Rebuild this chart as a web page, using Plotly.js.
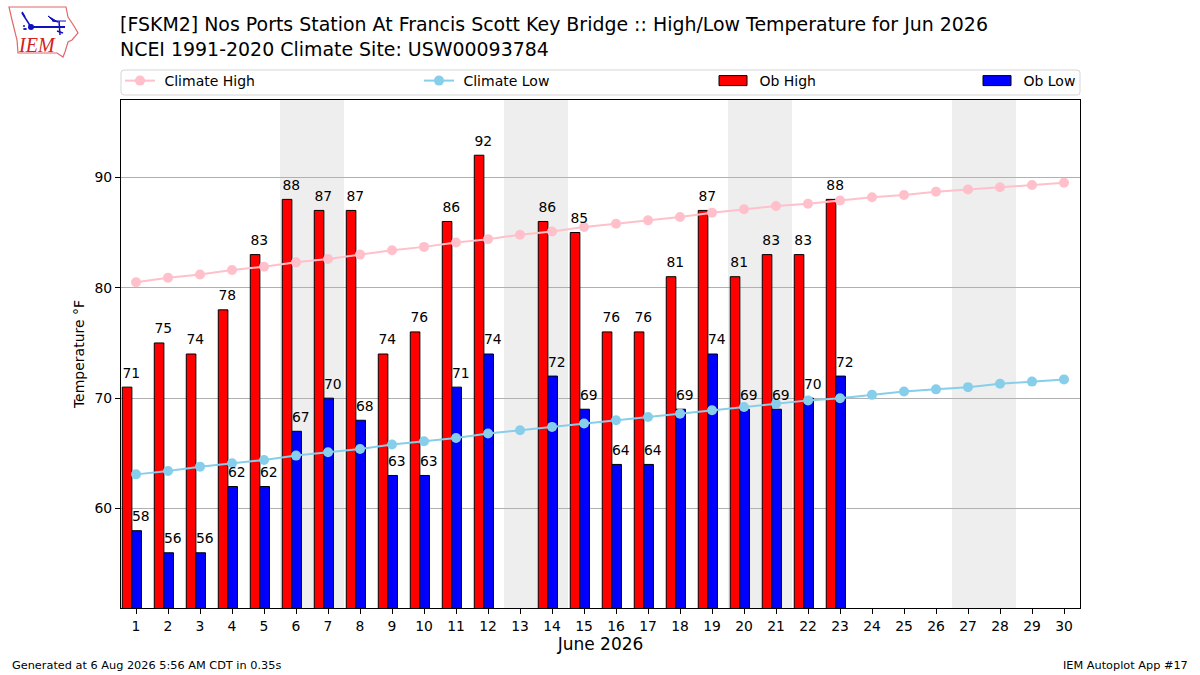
<!DOCTYPE html>
<html>
<head>
<meta charset="utf-8">
<script src="https://cdn.plot.ly/plotly-3.0.1.min.js"></script>
<style>
  html, body { margin: 0; padding: 0; background: #fff; }
  #chart { width: 1200px; height: 675px; }
</style>
</head>
<body>
<div id="chart"></div>
<script>
const DAYS = [1,2,3,4,5,6,7,8,9,10,11,12,13,14,15,16,17,18,19,20,21,22,23,24,25,26,27,28,29,30];
const OB_DAYS = [1,2,3,4,5,6,7,8,9,10,11,12,14,15,16,17,18,19,20,21,22,23];
const OB_HIGH = [71,75,74,78,83,88,87,87,74,76,86,92,86,85,76,76,81,87,81,83,83,88];
const OB_LOW = [58,56,56,62,62,67,70,68,63,63,71,74,72,69,64,64,69,74,69,69,70,72];
const CLIMATE_HIGH = [80.5,80.9,81.2,81.6,81.9,82.3,82.6,83.0,83.4,83.7,84.1,84.4,84.8,85.1,85.5,85.8,86.1,86.4,86.8,87.1,87.4,87.6,87.9,88.2,88.4,88.7,88.9,89.1,89.3,89.5];
const CLIMATE_LOW = [63.1,63.4,63.8,64.1,64.4,64.8,65.1,65.4,65.8,66.1,66.4,66.8,67.1,67.4,67.7,68.0,68.3,68.6,68.9,69.2,69.5,69.8,70.0,70.3,70.6,70.8,71.0,71.3,71.5,71.7];
const WEEKENDS = [[5.5,7.5],[12.5,14.5],[19.5,21.5],[26.5,28.5]];

const FONT = 'DejaVu Sans, sans-serif';
const LABEL_LIFT = 0.55;

// plot area in pixels, everything outside the axes is placed from these
const L = 121, R = 1080, T = 100, B = 608;
const px = x => (x - L) / (R - L);
const py = y => (B - y) / (B - T);
const pathOf = pts => pts.map((p, i) => (i ? 'L' : 'M') + px(p[0]) + ',' + py(p[1])).join(' ');

function paperShape(pts, closed, opts) {
  return { type: 'path', xref: 'paper', yref: 'paper', path: pathOf(pts) + (closed ? ' Z' : ''), ...opts };
}

// rounded legend frame
const r = 3;
const box = { x0: 121, x1: 1080, y0: 70, y1: 95 };
const legendFrame = {
  type: 'path', xref: 'paper', yref: 'paper', fillcolor: '#fff', line: { color: '#d5d5d5', width: 1 },
  path: `M${px(box.x0 + r)},${py(box.y0)} L${px(box.x1 - r)},${py(box.y0)} Q${px(box.x1)},${py(box.y0)} ${px(box.x1)},${py(box.y0 + r)} ` +
        `L${px(box.x1)},${py(box.y1 - r)} Q${px(box.x1)},${py(box.y1)} ${px(box.x1 - r)},${py(box.y1)} ` +
        `L${px(box.x0 + r)},${py(box.y1)} Q${px(box.x0)},${py(box.y1)} ${px(box.x0)},${py(box.y1 - r)} ` +
        `L${px(box.x0)},${py(box.y0 + r)} Q${px(box.x0)},${py(box.y0)} ${px(box.x0 + r)},${py(box.y0)} Z`,
};

// IEM logo
const IOWA = [[9,7],[66,7],[68,17],[74,26],[78,33],[72,40],[68,42],[65,52],[63,57],[57,53],[18,53],[17,40],[12,20]];
const BLUE = '#1010c0';
const logo = [
  paperShape(IOWA, true, { fillcolor: '#fff', line: { color: '#e06868', width: 1.2 } }),
  paperShape([[31,27],[65,27]], false, { line: { color: BLUE, width: 2 } }),
  paperShape([[22,13],[31,27]], false, { line: { color: BLUE, width: 1.5 } }),
  paperShape([[22,12],[25,17]], false, { line: { color: BLUE, width: 1.5 } }),
  paperShape([[48,16],[58,22],[53,21]], true, { fillcolor: BLUE, line: { color: BLUE, width: 1 } }),
  paperShape([[52,21],[66,21]], false, { line: { color: BLUE, width: 1 } }),
  paperShape([[59,21],[60,35]], false, { line: { color: BLUE, width: 1.5 } }),
  paperShape([[57,31],[63,33]], false, { line: { color: BLUE, width: 1.5 } }),
  { type: 'circle', xref: 'paper', yref: 'paper', x0: px(28), x1: px(34), y0: py(24), y1: py(30), fillcolor: BLUE, line: { width: 0 } },
  { type: 'circle', xref: 'paper', yref: 'paper', x0: px(23), x1: px(25), y0: py(25), y1: py(27), fillcolor: BLUE, line: { width: 0 } },
  { type: 'circle', xref: 'paper', yref: 'paper', x0: px(23), x1: px(27), y0: py(28), y1: py(30), fillcolor: BLUE, line: { width: 0 } },
];

const weekendShapes = WEEKENDS.map(w => ({
  type: 'rect', xref: 'x', yref: 'paper', x0: w[0], x1: w[1], y0: 0, y1: 1,
  fillcolor: '#eeeeee', line: { width: 0 }, layer: 'below',
}));

const barLine = { color: '#000', width: 1 };
const labelFont = { family: FONT, size: 13.9, color: '#000' };
const traces = [
  { type: 'bar', name: '\u00a0Ob High', x: OB_DAYS, y: OB_HIGH, width: 0.3, offset: -0.43,
    marker: { color: '#ff0000', line: barLine }, legend: 'legend3' },
  { type: 'bar', name: '\u00a0Ob Low', x: OB_DAYS, y: OB_LOW, width: 0.3, offset: -0.13,
    marker: { color: '#0000ff', line: barLine }, legend: 'legend4' },
  { type: 'scatter', mode: 'lines+markers', name: '\u00a0Climate High', x: DAYS, y: CLIMATE_HIGH,
    line: { color: '#ffc0cb', width: 2 }, marker: { color: '#ffc0cb', size: 10 }, legend: 'legend' },
  { type: 'scatter', mode: 'lines+markers', name: '\u00a0Climate Low', x: DAYS, y: CLIMATE_LOW,
    line: { color: '#87ceeb', width: 2 }, marker: { color: '#87ceeb', size: 10 }, legend: 'legend2' },
  // value labels sit over the inner edge of each bar
  { type: 'scatter', mode: 'text', x: OB_DAYS.map(d => d - 0.15), y: OB_HIGH.map(v => v + LABEL_LIFT), text: OB_HIGH.map(String),
    textposition: 'top center', textfont: labelFont, showlegend: false, cliponaxis: false },
  { type: 'scatter', mode: 'text', x: OB_DAYS.map(d => d + 0.15), y: OB_LOW.map(v => v + LABEL_LIFT), text: OB_LOW.map(String),
    textposition: 'top center', textfont: labelFont, showlegend: false, cliponaxis: false },
];

function legendAt(x) {
  return {
    x: px(x), y: py(81), xanchor: 'left', yanchor: 'middle', orientation: 'v',
    bgcolor: 'rgba(0,0,0,0)', borderwidth: 0, itemwidth: 30,
    font: { family: FONT, size: 14, color: '#000' },
  };
}

function note(text, x, y, xanchor, size) {
  return { text, xref: 'paper', yref: 'paper', x: px(x), y: py(y), xanchor, yanchor: 'middle',
    showarrow: false, font: { family: FONT, size, color: '#000' } };
}

const layout = {
  width: 1200, height: 675,
  paper_bgcolor: '#fff', plot_bgcolor: '#fff',
  font: { family: FONT, size: 13.9, color: '#000' },
  margin: { l: L, r: 1200 - R, t: T, b: 675 - B, pad: 0, autoexpand: false },
  barmode: 'overlay',
  hovermode: false,
  title: {
    text: '[FSKM2] Nos Ports Station At Francis Scott Key Bridge :: High/Low Temperature for Jun 2026<br>NCEI 1991-2020 Climate Site: USW00093784',
    x: 120 / 1200, xanchor: 'left', xref: 'container', y: 1 - 31 / 675, yanchor: 'middle', yref: 'container',
    font: { family: FONT, size: 18.95, color: '#000' },
  },
  xaxis: {
    range: [0.53, 30.5], tickvals: DAYS, ticktext: DAYS.map(String), ticks: 'outside', ticklen: 5, tickwidth: 1, tickcolor: '#000',
    showgrid: false, zeroline: false, showline: true, linecolor: '#000', linewidth: 1, mirror: true,
    tickfont: { family: FONT, size: 13.9 },
    title: { text: 'June 2026', font: { family: FONT, size: 17 }, standoff: 5 },
  },
  yaxis: {
    range: [51, 97], tick0: 60, dtick: 10, ticks: 'outside', ticklen: 5, tickwidth: 1, tickcolor: '#000',
    showgrid: true, gridcolor: '#b0b0b0', gridwidth: 1, zeroline: false, showline: true, linecolor: '#000', linewidth: 1, mirror: true,
    tickfont: { family: FONT, size: 13.9 },
    title: { text: 'Temperature °F', font: { family: FONT, size: 14 }, standoff: 6 },
  },
  legend: legendAt(120),
  legend2: legendAt(419),
  legend3: legendAt(715),
  legend4: legendAt(979),
  shapes: [legendFrame, ...weekendShapes, ...logo],
  annotations: [
    note('Generated at 6 Aug 2026 5:56 AM CDT in 0.35s', 10, 665, 'left', 11.3),
    note('IEM Autoplot App #17', 1190, 665, 'right', 11.3),
    { text: '<i>IEM</i>', xref: 'paper', yref: 'paper', x: px(37), y: py(45), xanchor: 'center', yanchor: 'middle',
      showarrow: false, font: { family: 'Liberation Serif, serif', size: 20, color: '#d42020' } },
  ],
};

// bar swatches in the legend are fixed squares, stretch them to match
function stretchSwatches() {
  document.querySelectorAll('#chart .legendpoints path:not(.scatterpts)').forEach(p => {
    p.setAttribute('d', 'M12,5H-16V-5H12Z');
  });
}

const gd = document.getElementById('chart');
Plotly.newPlot(gd, traces, layout, { displayModeBar: false, responsive: false }).then(() => {
  gd.on('plotly_afterplot', stretchSwatches);
  stretchSwatches();
  requestAnimationFrame(stretchSwatches);
  setTimeout(stretchSwatches, 100);
});
</script>
</body>
</html>
